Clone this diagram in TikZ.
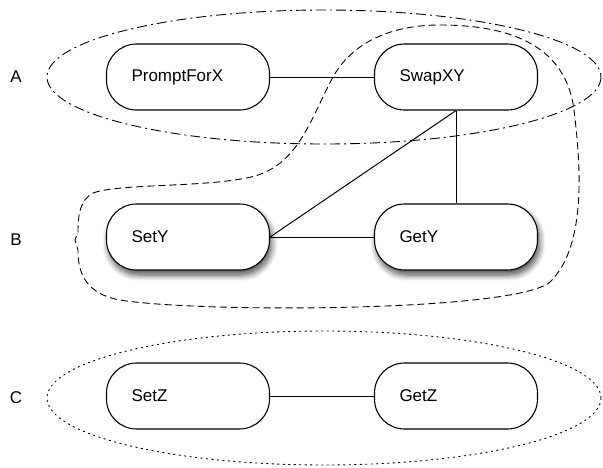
\documentclass[tikz,border=0pt]{standalone}
\usepackage{fontspec}
\setmainfont{Liberation Sans}
\usetikzlibrary{shadows.blur}
\begin{document}
\begin{tikzpicture}[x=1pt,y=-1pt,
  box/.style={draw, line width=1.1pt, rounded corners=30pt, minimum height=66pt,
    text width=113pt, inner xsep=25pt, inner ysep=0pt, align=left, fill=white,
    font=\fontsize{17}{20}\selectfont},
  shbox/.style={box, blur shadow={shadow xshift=2pt, shadow yshift=-5pt, shadow blur steps=8, shadow blur radius=6pt, shadow opacity=70}},
  lbl/.style={font=\fontsize{17}{20}\selectfont},
  conn/.style={line width=1pt}]
\useasboundingbox (0,0) rectangle (603,467);
% groups
\draw[line width=0.9pt, dash pattern=on 10pt off 4pt on 2pt off 4pt] (324,77) ellipse [x radius=277, y radius=67];
\draw[line width=0.9pt, dash pattern=on 1.5pt off 4pt, line cap=round] (324,398) ellipse [x radius=277, y radius=67];
\draw[line width=0.9pt, dash pattern=on 7pt off 4pt]
  (93,193) .. controls (120,183) and (210,188) .. (255,176)
  .. controls (300,163) and (312,115) .. (333,77)
  .. controls (352,43) and (390,25) .. (440,25)
  .. controls (525,25) and (567,55) .. (574,110)
  .. controls (580,160) and (588,245) .. (550,282)
  .. controls (515,312) and (200,313) .. (120,300)
  .. controls (80,293) and (78,265) .. (78,250)
  -- (75,240) -- (78,232)
  .. controls (78,215) and (80,200) .. (93,193);
% labels
\node[lbl] (la) at (16,77) {A};
\node[lbl] (lb) at (16,240) {B};
\node[lbl] (lc) at (16,398) {C};
% nodes
\node[box] (p) at (188,77) {PromptForX};
\node[box] (s) at (456,77) {SwapXY};
\node[shbox] (sy) at (188,237) {SetY};
\node[shbox] (gy) at (456,237) {GetY};
\node[box] (sz) at (188,396) {SetZ};
\node[box] (gz) at (456,396) {GetZ};
% connectors
\draw[conn] (p.east) -- (s.west);
\draw[conn] (s.south) -- (gy.north);
\draw[conn] (s.south) -- (sy.east);
\draw[conn] (sy.east) -- (gy.west);
\draw[conn] (sz.east) -- (gz.west);
\end{tikzpicture}
\end{document}
